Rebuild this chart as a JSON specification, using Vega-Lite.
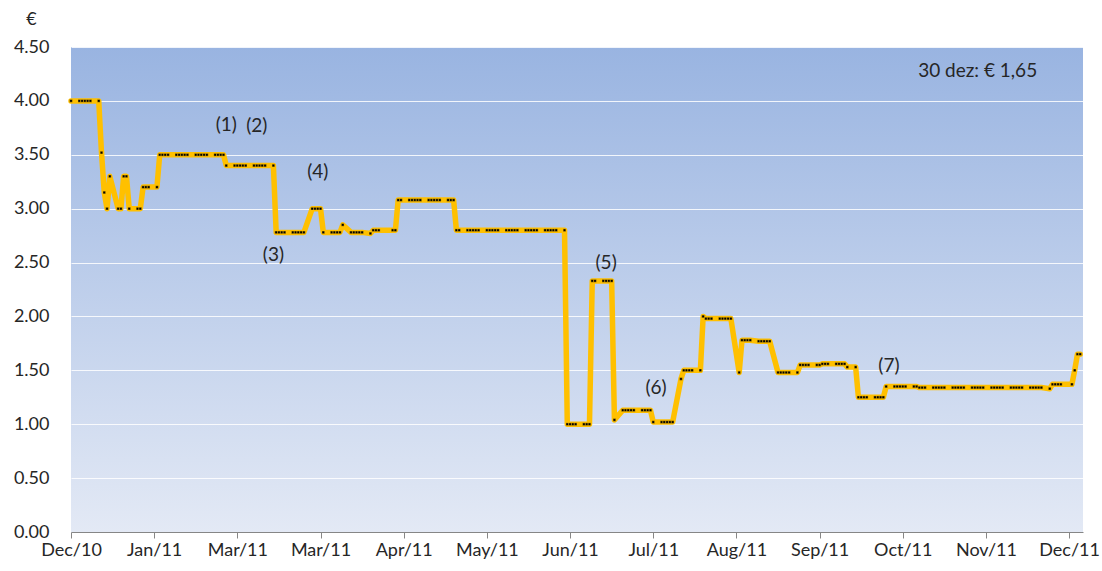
{
  "$schema": "https://vega.github.io/schema/vega-lite/v6.json",
  "width": 1012,
  "height": 485,
  "autosize": {"type": "none"},
  "padding": {"left": 71, "top": 47, "right": 19, "bottom": 39},
  "background": "white",
  "config": {
    "view": {
      "stroke": null,
      "fill": {"gradient": "linear", "x1": 0, "y1": 0, "x2": 0, "y2": 1,
        "stops": [{"offset": 0, "color": "#99B4E1"}, {"offset": 1, "color": "#E3E9F5"}]}
    },
    "font": "Lato",
    "axis": {"labelFont": "Lato", "labelFontSize": 18, "labelColor": "#262626", "titleFont": "Lato", "titleFontWeight": "normal"}
  },
  "datasets": {
    "prices": [
      {"date": "2010-12-31", "price": 4.00},
      {"date": "2011-01-03", "price": 4.00},
      {"date": "2011-01-04", "price": 4.00},
      {"date": "2011-01-05", "price": 4.00},
      {"date": "2011-01-06", "price": 4.00},
      {"date": "2011-01-07", "price": 4.00},
      {"date": "2011-01-10", "price": 4.00},
      {"date": "2011-01-11", "price": 3.52},
      {"date": "2011-01-12", "price": 3.15},
      {"date": "2011-01-13", "price": 3.00},
      {"date": "2011-01-14", "price": 3.30},
      {"date": "2011-01-17", "price": 3.00},
      {"date": "2011-01-18", "price": 3.00},
      {"date": "2011-01-19", "price": 3.30},
      {"date": "2011-01-20", "price": 3.30},
      {"date": "2011-01-21", "price": 3.00},
      {"date": "2011-01-24", "price": 3.00},
      {"date": "2011-01-25", "price": 3.00},
      {"date": "2011-01-26", "price": 3.20},
      {"date": "2011-01-27", "price": 3.20},
      {"date": "2011-01-28", "price": 3.20},
      {"date": "2011-01-31", "price": 3.20},
      {"date": "2011-02-01", "price": 3.50},
      {"date": "2011-02-02", "price": 3.50},
      {"date": "2011-02-03", "price": 3.50},
      {"date": "2011-02-04", "price": 3.50},
      {"date": "2011-02-07", "price": 3.50},
      {"date": "2011-02-08", "price": 3.50},
      {"date": "2011-02-09", "price": 3.50},
      {"date": "2011-02-10", "price": 3.50},
      {"date": "2011-02-11", "price": 3.50},
      {"date": "2011-02-14", "price": 3.50},
      {"date": "2011-02-15", "price": 3.50},
      {"date": "2011-02-16", "price": 3.50},
      {"date": "2011-02-17", "price": 3.50},
      {"date": "2011-02-18", "price": 3.50},
      {"date": "2011-02-21", "price": 3.50},
      {"date": "2011-02-22", "price": 3.50},
      {"date": "2011-02-23", "price": 3.50},
      {"date": "2011-02-24", "price": 3.50},
      {"date": "2011-02-25", "price": 3.40},
      {"date": "2011-02-28", "price": 3.40},
      {"date": "2011-03-01", "price": 3.40},
      {"date": "2011-03-02", "price": 3.40},
      {"date": "2011-03-03", "price": 3.40},
      {"date": "2011-03-04", "price": 3.40},
      {"date": "2011-03-07", "price": 3.40},
      {"date": "2011-03-08", "price": 3.40},
      {"date": "2011-03-09", "price": 3.40},
      {"date": "2011-03-10", "price": 3.40},
      {"date": "2011-03-11", "price": 3.40},
      {"date": "2011-03-14", "price": 3.40},
      {"date": "2011-03-15", "price": 2.78},
      {"date": "2011-03-16", "price": 2.78},
      {"date": "2011-03-17", "price": 2.78},
      {"date": "2011-03-18", "price": 2.78},
      {"date": "2011-03-21", "price": 2.78},
      {"date": "2011-03-22", "price": 2.78},
      {"date": "2011-03-23", "price": 2.78},
      {"date": "2011-03-24", "price": 2.78},
      {"date": "2011-03-25", "price": 2.78},
      {"date": "2011-03-28", "price": 3.00},
      {"date": "2011-03-29", "price": 3.00},
      {"date": "2011-03-30", "price": 3.00},
      {"date": "2011-03-31", "price": 3.00},
      {"date": "2011-04-01", "price": 2.78},
      {"date": "2011-04-04", "price": 2.78},
      {"date": "2011-04-05", "price": 2.78},
      {"date": "2011-04-06", "price": 2.78},
      {"date": "2011-04-07", "price": 2.78},
      {"date": "2011-04-08", "price": 2.85},
      {"date": "2011-04-11", "price": 2.78},
      {"date": "2011-04-12", "price": 2.78},
      {"date": "2011-04-13", "price": 2.78},
      {"date": "2011-04-14", "price": 2.78},
      {"date": "2011-04-15", "price": 2.78},
      {"date": "2011-04-18", "price": 2.77},
      {"date": "2011-04-19", "price": 2.80},
      {"date": "2011-04-20", "price": 2.80},
      {"date": "2011-04-21", "price": 2.80},
      {"date": "2011-04-26", "price": 2.80},
      {"date": "2011-04-27", "price": 2.80},
      {"date": "2011-04-28", "price": 3.08},
      {"date": "2011-04-29", "price": 3.08},
      {"date": "2011-05-02", "price": 3.08},
      {"date": "2011-05-03", "price": 3.08},
      {"date": "2011-05-04", "price": 3.08},
      {"date": "2011-05-05", "price": 3.08},
      {"date": "2011-05-06", "price": 3.08},
      {"date": "2011-05-09", "price": 3.08},
      {"date": "2011-05-10", "price": 3.08},
      {"date": "2011-05-11", "price": 3.08},
      {"date": "2011-05-12", "price": 3.08},
      {"date": "2011-05-13", "price": 3.08},
      {"date": "2011-05-16", "price": 3.08},
      {"date": "2011-05-17", "price": 3.08},
      {"date": "2011-05-18", "price": 3.08},
      {"date": "2011-05-19", "price": 2.80},
      {"date": "2011-05-20", "price": 2.80},
      {"date": "2011-05-23", "price": 2.80},
      {"date": "2011-05-24", "price": 2.80},
      {"date": "2011-05-25", "price": 2.80},
      {"date": "2011-05-26", "price": 2.80},
      {"date": "2011-05-27", "price": 2.80},
      {"date": "2011-05-30", "price": 2.80},
      {"date": "2011-05-31", "price": 2.80},
      {"date": "2011-06-01", "price": 2.80},
      {"date": "2011-06-02", "price": 2.80},
      {"date": "2011-06-03", "price": 2.80},
      {"date": "2011-06-06", "price": 2.80},
      {"date": "2011-06-07", "price": 2.80},
      {"date": "2011-06-08", "price": 2.80},
      {"date": "2011-06-09", "price": 2.80},
      {"date": "2011-06-10", "price": 2.80},
      {"date": "2011-06-13", "price": 2.80},
      {"date": "2011-06-14", "price": 2.80},
      {"date": "2011-06-15", "price": 2.80},
      {"date": "2011-06-16", "price": 2.80},
      {"date": "2011-06-17", "price": 2.80},
      {"date": "2011-06-20", "price": 2.80},
      {"date": "2011-06-21", "price": 2.80},
      {"date": "2011-06-22", "price": 2.80},
      {"date": "2011-06-23", "price": 2.80},
      {"date": "2011-06-24", "price": 2.80},
      {"date": "2011-06-27", "price": 2.80},
      {"date": "2011-06-28", "price": 1.00},
      {"date": "2011-06-29", "price": 1.00},
      {"date": "2011-06-30", "price": 1.00},
      {"date": "2011-07-01", "price": 1.00},
      {"date": "2011-07-04", "price": 1.00},
      {"date": "2011-07-05", "price": 1.00},
      {"date": "2011-07-06", "price": 1.00},
      {"date": "2011-07-07", "price": 2.33},
      {"date": "2011-07-08", "price": 2.33},
      {"date": "2011-07-11", "price": 2.33},
      {"date": "2011-07-12", "price": 2.33},
      {"date": "2011-07-13", "price": 2.33},
      {"date": "2011-07-14", "price": 2.33},
      {"date": "2011-07-15", "price": 1.04},
      {"date": "2011-07-18", "price": 1.13},
      {"date": "2011-07-19", "price": 1.13},
      {"date": "2011-07-20", "price": 1.13},
      {"date": "2011-07-21", "price": 1.13},
      {"date": "2011-07-22", "price": 1.13},
      {"date": "2011-07-25", "price": 1.13},
      {"date": "2011-07-26", "price": 1.13},
      {"date": "2011-07-27", "price": 1.13},
      {"date": "2011-07-28", "price": 1.13},
      {"date": "2011-07-29", "price": 1.02},
      {"date": "2011-08-01", "price": 1.02},
      {"date": "2011-08-02", "price": 1.02},
      {"date": "2011-08-03", "price": 1.02},
      {"date": "2011-08-04", "price": 1.02},
      {"date": "2011-08-05", "price": 1.02},
      {"date": "2011-08-08", "price": 1.42},
      {"date": "2011-08-09", "price": 1.50},
      {"date": "2011-08-10", "price": 1.50},
      {"date": "2011-08-11", "price": 1.50},
      {"date": "2011-08-12", "price": 1.50},
      {"date": "2011-08-15", "price": 1.50},
      {"date": "2011-08-16", "price": 2.00},
      {"date": "2011-08-17", "price": 1.98},
      {"date": "2011-08-18", "price": 1.98},
      {"date": "2011-08-19", "price": 1.98},
      {"date": "2011-08-22", "price": 1.98},
      {"date": "2011-08-23", "price": 1.98},
      {"date": "2011-08-24", "price": 1.98},
      {"date": "2011-08-25", "price": 1.98},
      {"date": "2011-08-26", "price": 1.98},
      {"date": "2011-08-29", "price": 1.48},
      {"date": "2011-08-30", "price": 1.78},
      {"date": "2011-08-31", "price": 1.78},
      {"date": "2011-09-01", "price": 1.78},
      {"date": "2011-09-02", "price": 1.78},
      {"date": "2011-09-05", "price": 1.77},
      {"date": "2011-09-06", "price": 1.77},
      {"date": "2011-09-07", "price": 1.77},
      {"date": "2011-09-08", "price": 1.77},
      {"date": "2011-09-09", "price": 1.77},
      {"date": "2011-09-12", "price": 1.48},
      {"date": "2011-09-13", "price": 1.48},
      {"date": "2011-09-14", "price": 1.48},
      {"date": "2011-09-15", "price": 1.48},
      {"date": "2011-09-16", "price": 1.48},
      {"date": "2011-09-19", "price": 1.48},
      {"date": "2011-09-20", "price": 1.55},
      {"date": "2011-09-21", "price": 1.55},
      {"date": "2011-09-22", "price": 1.55},
      {"date": "2011-09-23", "price": 1.55},
      {"date": "2011-09-26", "price": 1.55},
      {"date": "2011-09-27", "price": 1.55},
      {"date": "2011-09-28", "price": 1.56},
      {"date": "2011-09-29", "price": 1.56},
      {"date": "2011-09-30", "price": 1.56},
      {"date": "2011-10-03", "price": 1.56},
      {"date": "2011-10-04", "price": 1.56},
      {"date": "2011-10-05", "price": 1.56},
      {"date": "2011-10-06", "price": 1.56},
      {"date": "2011-10-07", "price": 1.53},
      {"date": "2011-10-10", "price": 1.53},
      {"date": "2011-10-11", "price": 1.25},
      {"date": "2011-10-12", "price": 1.25},
      {"date": "2011-10-13", "price": 1.25},
      {"date": "2011-10-14", "price": 1.25},
      {"date": "2011-10-17", "price": 1.25},
      {"date": "2011-10-18", "price": 1.25},
      {"date": "2011-10-19", "price": 1.25},
      {"date": "2011-10-20", "price": 1.25},
      {"date": "2011-10-21", "price": 1.35},
      {"date": "2011-10-24", "price": 1.35},
      {"date": "2011-10-25", "price": 1.35},
      {"date": "2011-10-26", "price": 1.35},
      {"date": "2011-10-27", "price": 1.35},
      {"date": "2011-10-28", "price": 1.35},
      {"date": "2011-10-31", "price": 1.35},
      {"date": "2011-11-01", "price": 1.35},
      {"date": "2011-11-02", "price": 1.34},
      {"date": "2011-11-03", "price": 1.34},
      {"date": "2011-11-04", "price": 1.34},
      {"date": "2011-11-07", "price": 1.34},
      {"date": "2011-11-08", "price": 1.34},
      {"date": "2011-11-09", "price": 1.34},
      {"date": "2011-11-10", "price": 1.34},
      {"date": "2011-11-11", "price": 1.34},
      {"date": "2011-11-14", "price": 1.34},
      {"date": "2011-11-15", "price": 1.34},
      {"date": "2011-11-16", "price": 1.34},
      {"date": "2011-11-17", "price": 1.34},
      {"date": "2011-11-18", "price": 1.34},
      {"date": "2011-11-21", "price": 1.34},
      {"date": "2011-11-22", "price": 1.34},
      {"date": "2011-11-23", "price": 1.34},
      {"date": "2011-11-24", "price": 1.34},
      {"date": "2011-11-25", "price": 1.34},
      {"date": "2011-11-28", "price": 1.34},
      {"date": "2011-11-29", "price": 1.34},
      {"date": "2011-11-30", "price": 1.34},
      {"date": "2011-12-01", "price": 1.34},
      {"date": "2011-12-02", "price": 1.34},
      {"date": "2011-12-05", "price": 1.34},
      {"date": "2011-12-06", "price": 1.34},
      {"date": "2011-12-07", "price": 1.34},
      {"date": "2011-12-08", "price": 1.34},
      {"date": "2011-12-09", "price": 1.34},
      {"date": "2011-12-12", "price": 1.34},
      {"date": "2011-12-13", "price": 1.34},
      {"date": "2011-12-14", "price": 1.34},
      {"date": "2011-12-15", "price": 1.34},
      {"date": "2011-12-16", "price": 1.34},
      {"date": "2011-12-19", "price": 1.33},
      {"date": "2011-12-20", "price": 1.37},
      {"date": "2011-12-21", "price": 1.37},
      {"date": "2011-12-22", "price": 1.37},
      {"date": "2011-12-23", "price": 1.37},
      {"date": "2011-12-27", "price": 1.37},
      {"date": "2011-12-28", "price": 1.50},
      {"date": "2011-12-29", "price": 1.65},
      {"date": "2011-12-30", "price": 1.65}
    ],
    "notes": [
      {"date": "2011-02-25", "price": 3.78, "label": "(1)"},
      {"date": "2011-03-08", "price": 3.77, "label": "(2)"},
      {"date": "2011-03-14", "price": 2.57, "label": "(3)"},
      {"date": "2011-03-30", "price": 3.34, "label": "(4)"},
      {"date": "2011-07-12", "price": 2.50, "label": "(5)"},
      {"date": "2011-07-30", "price": 1.34, "label": "(6)"},
      {"date": "2011-10-22", "price": 1.54, "label": "(7)"},
      {"date": "2011-11-23", "price": 4.28, "label": "30 dez: € 1,65"}
    ]
  },
  "encoding": {
    "x": {
      "field": "date", "type": "temporal",
      "scale": {"type": "utc", "domain": [{"year": 2010, "month": 12, "date": 31, "utc": true}, {"year": 2011, "month": 12, "date": 31, "utc": true}]},
      "axis": {
        "title": null, "format": "%b/%y", "grid": false,
        "values": [
          {"year": 2010, "month": 12, "date": 31, "utc": true},
          {"year": 2011, "month": 1, "date": 30, "utc": true},
          {"year": 2011, "month": 3, "date": 1, "utc": true},
          {"year": 2011, "month": 3, "date": 31, "utc": true},
          {"year": 2011, "month": 4, "date": 30, "utc": true},
          {"year": 2011, "month": 5, "date": 30, "utc": true},
          {"year": 2011, "month": 6, "date": 29, "utc": true},
          {"year": 2011, "month": 7, "date": 29, "utc": true},
          {"year": 2011, "month": 8, "date": 28, "utc": true},
          {"year": 2011, "month": 9, "date": 27, "utc": true},
          {"year": 2011, "month": 10, "date": 27, "utc": true},
          {"year": 2011, "month": 11, "date": 26, "utc": true},
          {"year": 2011, "month": 12, "date": 26, "utc": true}
        ],
        "domainColor": "#868686", "domainWidth": 1, "tickColor": "#868686", "tickSize": 6,
        "labelPadding": 3, "labelFlush": false, "labelOverlap": false
      }
    },
    "y": {
      "field": "price", "type": "quantitative",
      "scale": {"domain": [0, 4.5], "nice": false, "zero": true},
      "axis": {
        "title": "€", "titleAngle": 0, "titleAlign": "center", "titleBaseline": "middle",
        "titleX": -40, "titleY": -28, "titleFontSize": 18, "titleColor": "#262626",
        "values": [0, 0.5, 1, 1.5, 2, 2.5, 3, 3.5, 4, 4.5], "format": ".2f",
        "domain": false, "ticks": false, "labelPadding": 22,
        "grid": true, "gridColor": "#FFFFFF", "gridWidth": 1, "gridOpacity": 0.85
      }
    }
  },
  "layer": [
    {
      "data": {"name": "prices"},
      "mark": {"type": "line", "color": "#FFC000", "strokeWidth": 5.5, "strokeJoin": "round", "strokeCap": "round"}
    },
    {
      "data": {"name": "prices"},
      "mark": {"type": "point", "shape": "square", "size": 7, "filled": true, "fill": "#000000", "stroke": "#FFC000", "strokeWidth": 0.4, "opacity": 1}
    },
    {
      "data": {"name": "notes"},
      "mark": {"type": "text", "font": "Lato", "fontSize": 19, "color": "#262626", "align": "center", "baseline": "middle"},
      "encoding": {"text": {"field": "label"}}
    }
  ]
}
